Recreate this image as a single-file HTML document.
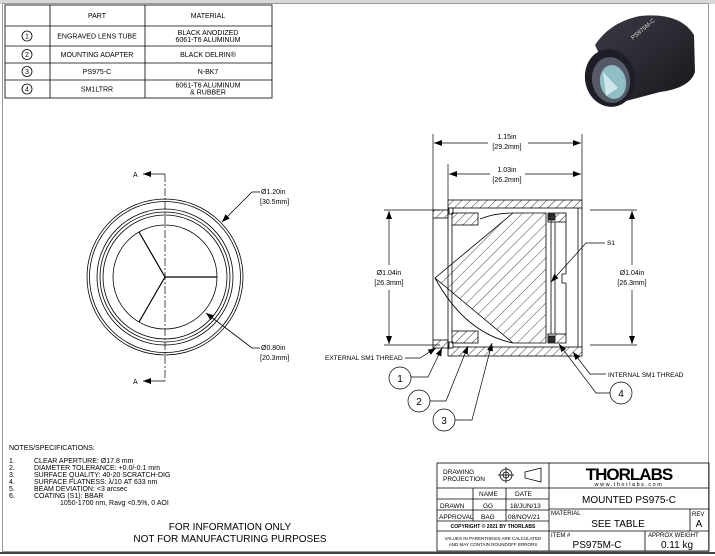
<!DOCTYPE html>
<html><head><meta charset="utf-8"><style>
html,body{margin:0;padding:0;background:#fff;}
svg{display:block;font-family:"Liberation Sans",sans-serif;}
</style></head><body>
<svg width="715" height="556" viewBox="0 0 715 556" xmlns="http://www.w3.org/2000/svg">
<defs>
<pattern id="h" patternUnits="userSpaceOnUse" width="6" height="6" patternTransform="rotate(45)"><line x1="0" y1="0" x2="0" y2="6" stroke="#000" stroke-width="0.8"/></pattern>
<pattern id="h2" patternUnits="userSpaceOnUse" width="8" height="8" patternTransform="rotate(45)"><line x1="0" y1="0" x2="0" y2="8" stroke="#000" stroke-width="0.7"/></pattern>
<marker id="a" markerWidth="8" markerHeight="6" refX="8" refY="3" orient="auto" markerUnits="userSpaceOnUse"><path d="M0,0 L8,3 L0,6z" fill="#000"/></marker>
<linearGradient id="cyl" x1="0" y1="0" x2="1" y2="1"><stop offset="0" stop-color="#3a3a44"/><stop offset="0.5" stop-color="#2a2a32"/><stop offset="1" stop-color="#15151a"/></linearGradient>
</defs>
<rect x="0" y="0" width="715" height="4" fill="#d8d8d8"/>
<rect x="2.5" y="3.5" width="706" height="548" fill="#fff" stroke="#999" stroke-width="1"/>
<line x1="0" y1="553" x2="715" y2="553" stroke="#444" stroke-width="2"/>

<!-- parts table -->
<g stroke="#000" stroke-width="0.8" fill="none">
<rect x="5" y="5" width="267" height="93"/>
<line x1="50" y1="5" x2="50" y2="98"/><line x1="145" y1="5" x2="145" y2="98"/>
<line x1="5" y1="26" x2="272" y2="26"/><line x1="5" y1="46" x2="272" y2="46"/>
<line x1="5" y1="63" x2="272" y2="63"/><line x1="5" y1="80" x2="272" y2="80"/>
<circle cx="27" cy="36" r="5"/><circle cx="27" cy="54.5" r="5"/><circle cx="27" cy="71.5" r="5"/><circle cx="27" cy="89" r="5"/>
</g>
<g font-size="7" text-anchor="middle" fill="#000">
<text x="97" y="18">PART</text><text x="208" y="18">MATERIAL</text>
<text x="27" y="38.5">1</text><text x="27" y="57">2</text><text x="27" y="74">3</text><text x="27" y="91.5">4</text>
<text x="97" y="38.5">ENGRAVED LENS TUBE</text>
<text x="208" y="35">BLACK ANODIZED</text><text x="208" y="42">6061-T6 ALUMINUM</text>
<text x="97" y="57">MOUNTING ADAPTER</text><text x="208" y="57">BLACK DELRIN®</text>
<text x="97" y="74">PS975-C</text><text x="208" y="74">N-BK7</text>
<text x="97" y="91.5">SM1LTRR</text>
<text x="208" y="87.5">6061-T6 ALUMINUM</text><text x="208" y="94.5">&amp; RUBBER</text>
</g>

<!-- product image -->
<g>
<path d="M595,45 Q610,22 640,16 Q680,12 694,35 L695,72 Q690,88 660,92 L622,102 Z" fill="url(#cyl)"/>
<ellipse cx="610" cy="78" rx="25" ry="29" transform="rotate(-10 610 78)" fill="#1e1e26"/>
<ellipse cx="611" cy="80" rx="19" ry="23" transform="rotate(-10 611 80)" fill="#555a66"/>
<ellipse cx="613" cy="82" rx="13" ry="17" transform="rotate(-10 613 82)" fill="#8fbfc4"/>
<path d="M603,72 L618,88 L606,96 Z" fill="#cfe6ea"/>
<text x="633" y="40" font-size="6" fill="#ddd" transform="rotate(-40 633 40)">PS975M-C</text>
</g>

<!-- front view -->
<g stroke="#000" fill="none" stroke-width="0.8">
<circle cx="165" cy="277" r="78"/><circle cx="165" cy="277" r="75.5"/>
<circle cx="165" cy="277" r="68"/><circle cx="165" cy="277" r="65"/><circle cx="165" cy="277" r="62"/>
<circle cx="165" cy="277" r="52"/>
<line x1="165" y1="277" x2="217" y2="277" stroke-width="1.2"/>
<line x1="165" y1="277" x2="139" y2="232" stroke-width="1.2"/>
<line x1="165" y1="277" x2="139" y2="322" stroke-width="1.2"/>
<line x1="165" y1="174" x2="165" y2="381" stroke-dasharray="8,2,2,2" stroke-width="0.7"/>
<line x1="165" y1="174" x2="143" y2="174" marker-end="url(#a)"/>
<line x1="165" y1="381" x2="143" y2="381" marker-end="url(#a)"/>
<polyline points="260,192 252,192 222,222" marker-end="url(#a)"/>
<polyline points="260,348 252,348 206,313" marker-end="url(#a)"/>
</g>
<g font-size="7" fill="#000">
<text x="133" y="177">A</text><text x="133" y="384">A</text>
<text x="261" y="194">Ø1.20in</text><text x="260" y="204">[30.5mm]</text>
<text x="261" y="350">Ø0.80in</text><text x="260" y="360">[20.3mm]</text>
</g>

<!-- section view -->
<g stroke="#000" stroke-width="0.8">
<rect x="448" y="200" width="134" height="8" fill="url(#h)"/>
<rect x="448" y="347" width="134" height="9" fill="url(#h)"/>
<line x1="448" y1="208" x2="448" y2="347"/>
<line x1="582" y1="208" x2="582" y2="347"/>
<line x1="578" y1="208" x2="578" y2="347"/>
<rect x="433" y="210" width="15" height="8" fill="url(#h)"/>
<rect x="433" y="340" width="15" height="8" fill="url(#h)"/>
<line x1="433" y1="218" x2="433" y2="340" fill="none"/>
<rect x="449" y="208" width="4" height="6" fill="#fff"/>
<rect x="449" y="342" width="4" height="6" fill="#fff"/>
<rect x="452" y="213" width="26" height="12" fill="url(#h)"/>
<rect x="452" y="331" width="26" height="12" fill="url(#h)"/>
<line x1="452" y1="225" x2="452" y2="331"/>
<path d="M435,278 L513,213 L546,213 L546,343 L513,343 Z" fill="url(#h2)"/>
<path d="M480,219 Q495,213 513,213" fill="none"/>
<path d="M435,278 Q465,333 513,343" fill="none"/>
<rect x="548" y="213" width="18" height="9" fill="url(#h)"/>
<rect x="548" y="334" width="18" height="9" fill="url(#h)"/>
<rect x="549" y="214" width="6" height="6" fill="#333"/><rect x="549" y="336" width="6" height="6" fill="#333"/>
<line x1="551" y1="222" x2="551" y2="334"/><line x1="555" y1="222" x2="555" y2="334"/>
<line x1="566" y1="222" x2="566" y2="274"/><line x1="566" y1="283" x2="566" y2="334"/>
<polyline points="566,274 562,274 562,283 566,283" fill="none"/>
</g>
<g stroke="#000" stroke-width="0.7" fill="none">
<line x1="433" y1="134" x2="433" y2="210"/><line x1="582" y1="134" x2="582" y2="200"/>
<line x1="448" y1="164" x2="448" y2="200"/>
<line x1="488" y1="143" x2="434" y2="143" marker-end="url(#a)"/><line x1="528" y1="143" x2="581" y2="143" marker-end="url(#a)"/>
<line x1="490" y1="174" x2="449" y2="174" marker-end="url(#a)"/><line x1="525" y1="174" x2="581" y2="174" marker-end="url(#a)"/>
<line x1="384" y1="210" x2="440" y2="210"/><line x1="384" y1="345" x2="440" y2="345"/>
<line x1="389" y1="265" x2="389" y2="211" marker-end="url(#a)"/><line x1="389" y1="290" x2="389" y2="344" marker-end="url(#a)"/>
<line x1="590" y1="210" x2="637" y2="210"/><line x1="590" y1="345" x2="637" y2="345"/>
<line x1="632" y1="265" x2="632" y2="211" marker-end="url(#a)"/><line x1="632" y1="290" x2="632" y2="344" marker-end="url(#a)"/>
<polyline points="605,243 586,243 551,282" marker-end="url(#a)"/>
<polyline points="405,358 420,358 436,348" marker-end="url(#a)"/>
<polyline points="411,377 428,377 442,348" marker-end="url(#a)"/>
<polyline points="430,401 446,401 468,346" marker-end="url(#a)"/>
<polyline points="455,420 472,420 492,343" marker-end="url(#a)"/>
<polyline points="610,393 596,393 559,344" marker-end="url(#a)"/>
<polyline points="606,374 590,374 573,352" marker-end="url(#a)"/>
<circle cx="400" cy="378" r="11" fill="#fff"/><circle cx="419" cy="401" r="11" fill="#fff"/>
<circle cx="444" cy="420" r="11" fill="#fff"/><circle cx="621" cy="393" r="11" fill="#fff"/>
</g>
<g font-size="7" fill="#000" text-anchor="middle">
<text x="507" y="139">1.15in</text><text x="507" y="149">[29.2mm]</text>
<text x="507" y="172">1.03in</text><text x="507" y="182">[26.2mm]</text>
<text x="389" y="275">Ø1.04in</text><text x="389" y="285">[26.3mm]</text>
<text x="632" y="275">Ø1.04in</text><text x="632" y="285">[26.3mm]</text>
<text x="400" y="382" font-size="10">1</text><text x="419" y="405" font-size="10">2</text>
<text x="444" y="424" font-size="10">3</text><text x="621" y="397" font-size="10">4</text>
</g>
<g font-size="6.5" fill="#000">
<text x="325" y="360">EXTERNAL SM1 THREAD</text>
<text x="608" y="377">INTERNAL SM1 THREAD</text>
<text x="607" y="245">S1</text>
</g>

<!-- notes -->
<g font-size="7" fill="#000">
<text x="9" y="450">NOTES/SPECIFICATIONS:</text>
<text x="9" y="463">1.</text><text x="34" y="463">CLEAR APERTURE: Ø17.8 mm</text>
<text x="9" y="470">2.</text><text x="34" y="470">DIAMETER TOLERANCE: +0.0/-0.1 mm</text>
<text x="9" y="477">3.</text><text x="34" y="477">SURFACE QUALITY: 40-20 SCRATCH-DIG</text>
<text x="9" y="484">4.</text><text x="34" y="484">SURFACE FLATNESS: λ/10 AT 633 nm</text>
<text x="9" y="491">5.</text><text x="34" y="491">BEAM DEVIATION: &lt;3 arcsec</text>
<text x="9" y="498">6.</text><text x="34" y="498">COATING (S1): BBAR</text>
<text x="60" y="505">1050-1700 nm, Ravg &lt;0.5%, 0 AOI</text>
</g>
<g font-size="10" fill="#000" text-anchor="middle">
<text x="230" y="530">FOR INFORMATION ONLY</text>
<text x="230" y="542">NOT FOR MANUFACTURING PURPOSES</text>
</g>

<!-- title block -->
<g stroke="#000" stroke-width="0.8" fill="none">
<rect x="437" y="463" width="272" height="88"/>
<line x1="549" y1="463" x2="549" y2="551"/>
<line x1="437" y1="488" x2="549" y2="488"/>
<line x1="437" y1="499" x2="549" y2="499"/>
<line x1="437" y1="510" x2="549" y2="510"/>
<line x1="437" y1="521" x2="549" y2="521"/>
<line x1="437" y1="531" x2="549" y2="531"/>
<line x1="473" y1="488" x2="473" y2="521"/><line x1="506" y1="488" x2="506" y2="521"/>
<line x1="549" y1="488" x2="709" y2="488"/>
<line x1="549" y1="509" x2="709" y2="509"/>
<line x1="549" y1="531" x2="709" y2="531"/>
<line x1="690" y1="509" x2="690" y2="531"/>
<line x1="645" y1="531" x2="645" y2="551"/>
<circle cx="506" cy="475" r="6"/><circle cx="506" cy="475" r="3"/>
<line x1="498" y1="475" x2="514" y2="475"/><line x1="506" y1="467" x2="506" y2="483"/>
<path d="M525,472 L541,468 L541,482 L525,478 Z"/>
</g>
<g fill="#000" font-size="6.5">
<text x="443" y="474">DRAWING</text><text x="443" y="481">PROJECTION</text>
<text x="479" y="496">NAME</text><text x="515" y="496">DATE</text>
<text x="440" y="508">DRAWN</text><text x="483" y="508">GG</text><text x="510" y="508">18/JUN/13</text>
<text x="439" y="519">APPROVAL</text><text x="481" y="519">BAG</text><text x="508" y="519">08/NOV/21</text>
<text x="493" y="528" font-size="5" text-anchor="middle" font-weight="bold">COPYRIGHT © 2021 BY THORLABS</text>
<text x="493" y="540" font-size="4.5" text-anchor="middle">VALUES IN PARENTHESIS ARE CALCULATED</text>
<text x="493" y="546" font-size="4.5" text-anchor="middle">AND MAY CONTAIN ROUNDOFF ERRORS</text>
<text x="629" y="480" font-size="17" font-weight="bold" text-anchor="middle" letter-spacing="-1">THORLABS</text>
<text x="629" y="486" font-size="5.5" text-anchor="middle" letter-spacing="1.5">www.thorlabs.com</text>
<text x="629" y="503" font-size="10" text-anchor="middle">MOUNTED PS975-C</text>
<text x="551" y="515" font-size="6">MATERIAL</text>
<text x="618" y="527" font-size="10" text-anchor="middle">SEE TABLE</text>
<text x="692" y="516" font-size="6">REV</text><text x="699" y="527" font-size="10" text-anchor="middle">A</text>
<text x="551" y="537" font-size="6">ITEM #</text>
<text x="597" y="548" font-size="10" text-anchor="middle">PS975M-C</text>
<text x="648" y="537" font-size="6">APPROX WEIGHT</text>
<text x="677" y="548" font-size="10" text-anchor="middle">0.11 kg</text>
</g>
</svg>
</body></html>
